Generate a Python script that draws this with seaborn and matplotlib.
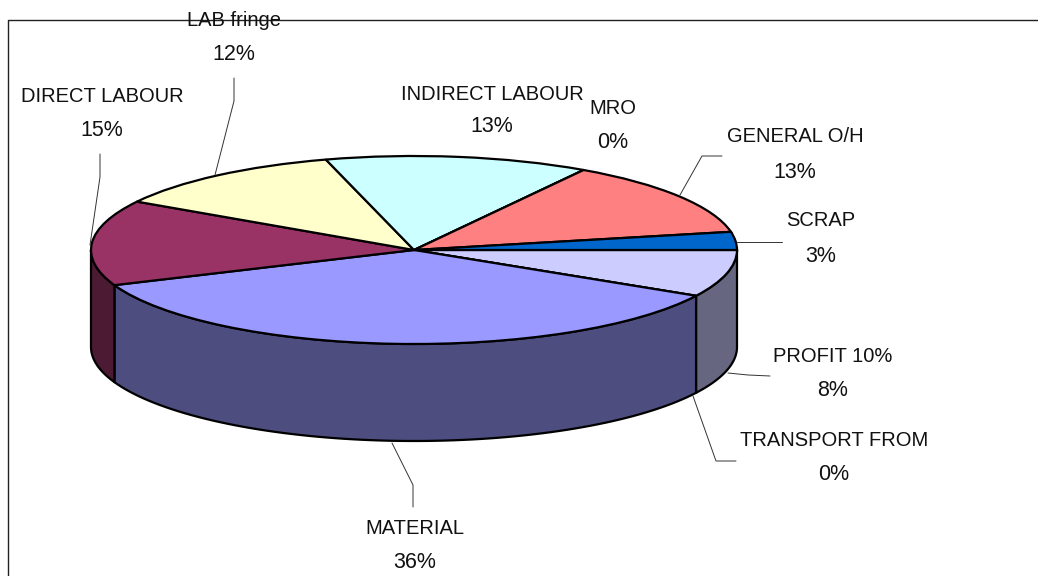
import numpy as np
import seaborn as sns
import matplotlib
matplotlib.use("Agg")
import matplotlib.pyplot as plt
from matplotlib.transforms import Affine2D

names = ["PROFIT 10%", "TRANSPORT FROM", "MATERIAL", "DIRECT LABOUR", "LAB fringe",
         "INDIRECT LABOUR", "MRO", "GENERAL O/H", "SCRAP"]
shares = [8.1, 0.0, 35.8, 14.7, 12.0, 13.2, 0.0, 13.1, 3.1]

top_colors = ["#CCCCFF", "#660066", "#9999FF", "#993366", "#FFFFCC",
              "#CCFFFF", "#660066", "#FF8080", "#0066CC"]
side_colors = ["#666680", "#330033", "#4D4D80", "#4D1A33", "#808066",
               "#668080", "#330033", "#804040", "#003366"]

# label centres in picture pixels (first line y, second line y)
label_pos = [(833, 357, 390), (834, 440, 475), (415, 528, 562), (102, 96, 131), (234, 20, 55),
             (492, 94, 127), (613, 108, 143), (795, 137, 172), (821, 221, 256)]
leaders = [[(770, 376), (748, 375), (728, 373)],
           [(736, 461), (716, 461), (693, 396)],
           [(413, 507), (413, 485), (392, 443)],
           [(100, 154), (100, 177), (90, 245)],
           [(234, 78), (234, 101), (215, 175)],
           [(722, 156), (702, 156), (680, 195)],
           [(782, 242), (737, 242)]]

W, H = 1038, 576
cx, cy, rx, ry, depth = 414, 250, 323, 94, 97

sns.set_theme(style="white")
plt.rcParams["font.family"] = ["Liberation Sans", "DejaVu Sans"]

fig = plt.figure(figsize=(W / 100, H / 100), dpi=100, facecolor="white")
ax = fig.add_axes([0, 0, 1, 1])
px = Affine2D().scale(1 / W, -1 / H).translate(0, 1) + fig.transFigure

# side walls of the front half, one per slice
d = depth / ry
edges = -np.cumsum([0] + shares) * 3.6
for i in range(len(shares)):
    a = max(edges[i + 1], -180)
    b = min(edges[i], 0)
    if b <= a or shares[i] == 0:
        continue
    t = np.radians(np.linspace(b, a, 80))
    xs = np.cos(t)
    ys = np.sin(t)
    ax.fill(np.r_[xs, xs[::-1]], np.r_[ys, ys[::-1] - d], facecolor=side_colors[i],
            edgecolor="black", linewidth=1.6, joinstyle="round")

ax.pie(shares, colors=sns.color_palette(top_colors), startangle=0, counterclock=False, radius=1,
       wedgeprops={"edgecolor": "black", "linewidth": 1.6})

# the axes run over the whole picture, unit circle squashed into the ellipse
ax.set_aspect("auto")
ax.set_xlim(-cx / rx, (W - cx) / rx)
ax.set_ylim(-(H - cy) / ry, cy / ry)
ax.axis("off")

for name, share, (x, y1, y2) in zip(names, shares, label_pos):
    ax.text(x, y1, name, transform=px, ha="center", va="center", fontsize=14.5, color="#111111", zorder=5)
    ax.text(x, y2, f"{share:.0f}%", transform=px, ha="center", va="center", fontsize=15.5, color="#111111", zorder=5)

for pts in leaders:
    ax.plot(*zip(*pts), transform=px, color="#333333", lw=0.7, clip_on=False, zorder=4)

# chart frame, right and bottom run off the picture
ax.plot([W, 7.5, 7.5], [19.5, 19.5, H], transform=px, color="#222222", lw=1.0, clip_on=False, zorder=4)

fig.savefig("out.png", dpi=100)
